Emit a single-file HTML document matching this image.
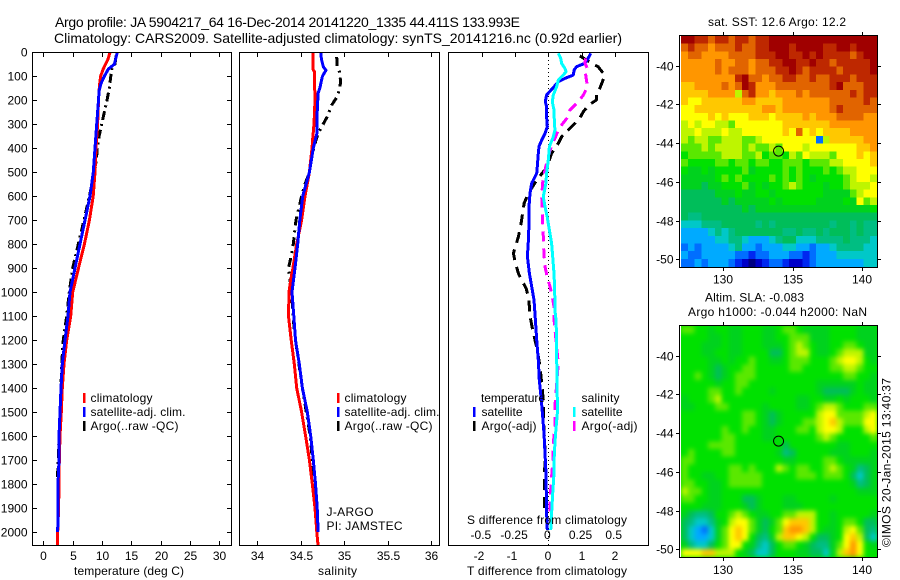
<!DOCTYPE html>
<html>
<head>
<meta charset="utf-8">
<title>Argo profile</title>
<style>
html,body{margin:0;padding:0;background:#fff;}
svg{display:block;}
text{font-family:"Liberation Sans",sans-serif;font-size:12px;fill:#000;}
.big{font-size:14px;}
</style>
</head>
<body>
<svg id="chart" width="900" height="580" viewBox="0 0 900 580" xmlns="http://www.w3.org/2000/svg">
<defs>
<clipPath id="clip-t"><rect x="32" y="52" width="200" height="494"/></clipPath>
<clipPath id="clip-s"><rect x="239" y="52" width="201" height="494"/></clipPath>
<clipPath id="clip-d"><rect x="448" y="52" width="201" height="494"/></clipPath>
<clipPath id="clip-m2"><rect x="681" y="326" width="196" height="231"/></clipPath>
<filter id="soft" x="-5%" y="-5%" width="110%" height="110%" color-interpolation-filters="sRGB"><feGaussianBlur stdDeviation="2.4"/></filter>
</defs>
<rect x="0" y="0" width="900" height="580" fill="#fff"/>
<text class="big" x="55" y="27" textLength="465" lengthAdjust="spacing">Argo profile: JA 5904217_64 16-Dec-2014 20141220_1335 44.411S 133.993E</text>
<text class="big" x="54" y="43" textLength="568" lengthAdjust="spacing">Climatology: CARS2009. Satellite-adjusted climatology: synTS_20141216.nc (0.92d earlier)</text>

<g id="map1"></g>
<g id="map2wrap" clip-path="url(#clip-m2)"><rect x="681" y="326" width="196" height="231" fill="#00e000"/><g id="map2" filter="url(#soft)"></g></g>

<g id="lines-t" clip-path="url(#clip-t)"></g>
<g id="lines-s" clip-path="url(#clip-s)"></g>
<g id="lines-d" clip-path="url(#clip-d)"></g>

<rect x="32.5" y="52.5" width="199" height="493" fill="none" stroke="#000"/>
<rect x="239.5" y="52.5" width="200" height="493" fill="none" stroke="#000"/>
<rect x="448.5" y="52.5" width="200" height="493" fill="none" stroke="#000"/>
<rect x="679.5" y="35.5" width="198" height="232" fill="none" stroke="#000"/>
<rect x="679.5" y="325.5" width="198" height="232" fill="none" stroke="#000"/>
<g id="axes"></g>

<text x="74" y="575" textLength="110" lengthAdjust="spacing">temperature (deg C)</text>
<text x="318" y="575" textLength="39" lengthAdjust="spacing">salinity</text>
<text x="467" y="575" textLength="160" lengthAdjust="spacing">T difference from climatology</text>
<text x="467" y="524" textLength="160" lengthAdjust="spacing">S difference from climatology</text>

<g>
<rect x="83" y="393" width="2.5" height="10" fill="#f00"/>
<rect x="83" y="407" width="2.5" height="10" fill="#00f"/>
<rect x="83" y="421" width="2.5" height="10" fill="#000"/>
<text x="90.5" y="402" textLength="62" lengthAdjust="spacing">climatology</text>
<text x="90.5" y="416" textLength="95" lengthAdjust="spacing">satellite-adj. clim.</text>
<text x="90.5" y="430" textLength="88" lengthAdjust="spacing">Argo(..raw -QC)</text>
</g>
<g>
<rect x="337" y="393" width="2.5" height="10" fill="#f00"/>
<rect x="337" y="407" width="2.5" height="10" fill="#00f"/>
<rect x="337" y="421" width="2.5" height="10" fill="#000"/>
<text x="344.5" y="402" textLength="62" lengthAdjust="spacing">climatology</text>
<text x="344.5" y="416" textLength="95" lengthAdjust="spacing">satellite-adj. clim.</text>
<text x="344.5" y="430" textLength="88" lengthAdjust="spacing">Argo(..raw -QC)</text>
<text x="326.5" y="516" textLength="47" lengthAdjust="spacing">J-ARGO</text>
<text x="326.5" y="530" textLength="76" lengthAdjust="spacing">PI: JAMSTEC</text>
</g>
<g>
<text x="481" y="402" textLength="64" lengthAdjust="spacing">temperature</text>
<text x="481.5" y="416" textLength="41" lengthAdjust="spacing">satellite</text>
<text x="481.5" y="430" textLength="55" lengthAdjust="spacing">Argo(-adj)</text>
<text x="581.5" y="402" textLength="38" lengthAdjust="spacing">salinity</text>
<text x="581.5" y="416" textLength="41" lengthAdjust="spacing">satellite</text>
<text x="581.5" y="430" textLength="56" lengthAdjust="spacing">Argo(-adj)</text>
<rect x="473" y="407" width="2.5" height="10" fill="#00f"/>
<rect x="473" y="421" width="2.5" height="10" fill="#000"/>
<rect x="573" y="407" width="2.5" height="10" fill="#0ff"/>
<rect x="573" y="421" width="2.5" height="10" fill="#f0f"/>
</g>

<text x="708" y="26" textLength="138" lengthAdjust="spacing">sat. SST: 12.6 Argo: 12.2</text>
<text x="705" y="301.5" textLength="99" lengthAdjust="spacing">Altim. SLA: -0.083</text>
<text x="688" y="316" textLength="179" lengthAdjust="spacing">Argo h1000: -0.044 h2000: NaN</text>
<text transform="translate(890.5,547) rotate(-90)" textLength="169" lengthAdjust="spacing">©IMOS 20-Jan-2015 13:40:37</text>
</svg>

<script>
// ---------- profile data ----------
const tempDepths = [0,30,50,70,100,130,160,200,300,400,500,600,700,800,900,1000,1100,1200,1300,1400,1500,1600,1700,1800,1900,2000,2058];
const tempClim = [11.36,11.0,10.6,10.2,9.77,9.6,9.5,9.4,9.25,8.97,8.8,8.5,7.85,7.0,6.0,5.0,4.67,3.98,3.53,3.24,3.07,2.84,2.73,2.67,2.6,2.45,2.45];
const tempSat = [12.6,12.3,12.1,11.07,10.4,9.83,9.5,9.4,9.1,8.8,8.52,7.95,7.1,6.25,5.4,4.55,4.2,3.7,3.24,3.02,2.85,2.67,2.67,2.5,2.5,2.45];
const tempArgoDepths = [15,50,70,100,150,200,250,300,350,400,450,500,600,700,800,900,1000,1100,1200,1300,1400,1500,1600,1700,1750,1900];
const tempArgo = [12.4,12.2,11.65,11.5,11.25,10.85,10.4,9.95,9.5,9.2,9.03,8.75,7.84,6.93,5.97,5.0,4.43,3.98,3.41,3.13,3.02,2.85,2.67,2.56,2.45,2.5];

const salClimDepths = [0,70,80,200,300,350,400,500,600,700,800,900,950,1000,1100,1200,1300,1400,1500,1600,1700,1800,1900,2000,2058];
const salClim = [34.64,34.64,34.657,34.665,34.653,34.64,34.63,34.6,34.55,34.51,34.454,34.41,34.385,34.365,34.36,34.39,34.426,34.454,34.51,34.557,34.6,34.634,34.665,34.685,34.7];
const salSatDepths = [0,30,60,75,100,150,170,250,340,370,400,500,600,700,800,900,1000,1100,1200,1300,1400,1500,1600,1700,1800,1900,2000];
const salSat = [34.73,34.74,34.76,34.79,34.75,34.72,34.70,34.69,34.685,34.665,34.645,34.6,34.523,34.49,34.465,34.434,34.40,34.42,34.44,34.484,34.52,34.576,34.615,34.645,34.67,34.69,34.70];
const salArgoDepths = [20,60,80,120,150,185,220,268,303,338,380,435,500,550,600,700,800,850,900,950,1000,1100,1200,1400,1600,1800,1900];
const salArgo = [34.915,34.92,34.945,34.96,34.95,34.92,34.857,34.807,34.753,34.70,34.665,34.627,34.6,34.55,34.51,34.446,34.415,34.39,34.36,34.377,34.396,34.41,34.44,34.52,34.61,34.66,34.68];

const dTempSatDepths = [4,25,46,60,74,95,109,123,150,178,206,227,268,310,338,366,393,421,477,505,546,588,644,713,783,852,922,977,1033,1116,1200,1283,1367,1450,1520,1589,1673,1756,1839,1922,1992];
const dTempSat = [1.28,1.20,1.10,0.85,0.78,0.75,0.50,0.30,0.13,-0.05,-0.09,-0.05,-0.05,-0.03,-0.10,-0.20,-0.28,-0.30,-0.33,-0.35,-0.50,-0.55,-0.58,-0.58,-0.60,-0.63,-0.57,-0.50,-0.43,-0.39,-0.35,-0.30,-0.27,-0.21,-0.17,-0.13,-0.10,-0.07,-0.06,-0.05,-0.03];
const dTempArgoDepths = [15,53,60,95,115,150,171,199,220,248,275,296,324,352,380,421,463,484,533,588,630,713,769,838,873,922,950,984,1019,1061,1100,1158,1200,1242,1311,1381,1450,1520,1659,1867,1922];
const dTempArgo = [0.95,1.4,1.5,1.7,1.65,1.55,1.45,1.45,1.22,1.05,0.95,0.8,0.6,0.4,0.3,0.1,0,-0.07,-0.35,-0.6,-0.73,-0.82,-0.9,-1.05,-1.0,-0.9,-0.8,-0.67,-0.6,-0.57,-0.55,-0.47,-0.4,-0.33,-0.25,-0.2,-0.15,-0.15,-0.1,-0.12,-0.1];
const dSalSatDepths = [4,25,46,67,81,95,115,143,178,206,241,282,324,352,393,449,505,546,602,644,686,741,797,852,922,991,1075,1116,1200,1283,1450,1506,1589,1673,1756,1839,1922,1992];
const dSalSat = [0.075,0.093,0.10,0.125,0.133,0.113,0.075,0.063,0.038,0.03,0.043,0.045,0.05,0.038,0.008,0,-0.013,-0.018,-0.038,-0.025,-0.008,0.008,0.025,0.033,0.043,0.048,0.05,0.058,0.063,0.063,0.068,0.068,0.055,0.045,0.043,0.033,0.025,0.018];
const dSalArgoDepths = [25,46,74,88,123,143,178,206,241,268,303,324,359,387,435,491,546,602,672,769,838,894,936,977,1019,1061,1088,1130,1297,1478,1561,1589,1714,1770,1825,1881,1936];
const dSalArgo = [0.28,0.276,0.30,0.28,0.289,0.296,0.264,0.226,0.163,0.15,0.10,0.075,0.05,0.025,0,-0.025,-0.043,-0.05,-0.045,-0.038,-0.033,-0.025,-0.008,0.013,0.03,0.043,0.043,0.045,0.075,0.05,0.05,0.043,0.033,0.025,0.018,0.013,0.013];

// ---------- tick labels ----------
const depthTicks = [0,100,200,300,400,500,600,700,800,900,1000,1100,1200,1300,1400,1500,1600,1700,1800,1900,2000];
const tempTicks = [0,5,10,15,20,25,30];
const salTicks = [34,34.5,35,35.5,36];
const dTempTicks = [-2,-1,0,1,2];
const dSalTicks = [-0.5,-0.25,0,0.25,0.5];
const lonTicks = [130,135,140];
const latTicks = [-40,-42,-44,-46,-48,-50];
const argoLon = [133.993];
const argoLat = [-44.411];

// ---------- map cells: colour levels, 0 navy .. 9 green .. 12 yellow .. 17 dark red ----------
const sstLevels = [
[17,17,16,16,15,16,16,15,16,16,15,16,16,17,17,17,17,17,17,17,17,17,17,17,17,17,17,17,17],
[15,16,15,15,14,15,15,15,16,15,15,16,16,17,17,17,16,17,17,17,17,16,16,17,17,16,17,17,17],
[14,15,15,14,14,14,14,15,15,15,15,16,16,16,17,17,16,16,17,16,17,16,16,16,16,15,16,17,17],
[14,14,14,14,14,15,14,14,15,15,14,15,15,16,16,17,17,16,16,17,16,16,15,16,16,16,16,16,17],
[14,14,14,14,14,15,14,15,15,15,14,15,15,15,16,16,17,16,15,16,16,16,16,15,16,16,16,16,17],
[14,14,14,14,14,14,14,14,16,17,15,15,14,15,15,16,16,15,15,16,15,15,16,16,16,15,16,16,16],
[13,13,14,14,14,14,15,14,15,17,16,14,14,14,15,15,15,15,15,15,15,15,16,17,15,15,15,16,16],
[13,13,13,13,14,14,14,14,11,15,16,14,14,13,14,14,14,15,14,15,15,15,15,15,15,16,15,16,16],
[13,12,12,13,13,13,13,13,13,14,14,13,13,13,13,14,14,14,14,14,14,14,15,15,15,15,15,16,15],
[12,12,13,13,13,13,13,13,13,13,13,13,14,14,13,14,14,14,14,14,14,14,15,16,15,15,15,15,15],
[12,12,12,12,13,12,13,12,12,12,13,13,13,12,13,13,13,13,14,13,14,14,14,15,15,15,15,14,14],
[11,12,11,12,12,11,11,10,12,12,12,12,12,12,12,13,13,13,13,13,13,13,14,14,14,14,14,14,14],
[11,11,12,11,11,11,12,11,11,12,12,12,12,12,12,13,12,15,12,13,12,13,13,13,13,14,14,14,14],
[11,10,11,11,10,10,11,11,11,10,10,11,12,12,12,12,12,12,12,12,3,11,13,13,13,13,13,14,14],
[10,10,10,11,10,11,11,11,11,10,11,10,10,11,10,12,12,12,11,12,12,12,12,12,12,12,13,13,14],
[9,10,10,10,10,10,11,11,11,10,10,11,9,10,10,9,11,10,12,11,11,11,10,12,12,12,13,12,13],
[10,9,9,9,9,10,10,9,10,10,9,10,10,9,9,10,10,10,9,10,10,10,11,11,12,12,12,12,13],
[9,8,8,9,8,9,9,9,9,10,8,9,9,9,9,10,9,10,9,9,9,10,9,10,11,11,12,12,12],
[8,8,8,8,8,9,10,9,10,9,9,9,9,10,9,10,9,10,9,8,9,9,9,9,10,11,12,12,11],
[8,8,8,7,8,8,9,9,9,10,8,9,8,9,9,10,11,10,9,9,9,8,9,9,10,11,11,11,12],
[7,7,7,7,7,8,8,8,9,8,8,9,9,8,9,9,9,9,9,9,9,8,8,8,8,10,11,12,12],
[7,7,7,7,7,7,8,7,8,8,8,8,8,9,8,9,9,9,9,9,8,8,8,8,9,8,12,10,11],
[7,7,7,7,7,7,7,7,7,8,7,8,8,8,8,8,8,8,8,8,8,8,8,8,8,8,8,8,9],
[7,6,6,7,7,7,7,7,7,7,7,7,7,7,7,7,7,7,7,7,7,7,7,7,7,7,7,7,7],
[5,5,5,6,6,6,7,7,7,7,7,6,7,6,7,7,7,7,7,7,7,7,6,7,7,6,7,6,6],
[4,4,4,4,5,6,5,6,7,7,7,7,7,7,7,6,6,7,6,6,7,6,7,7,7,6,7,6,6],
[4,4,4,4,4,5,5,6,6,5,4,4,4,5,6,7,7,5,5,5,6,6,6,6,7,6,6,6,5],
[3,4,3,4,4,4,4,5,6,4,4,3,4,4,4,5,5,4,4,3,4,4,5,6,6,6,6,5,5],
[4,3,3,4,4,4,4,4,3,3,2,3,3,4,4,4,3,3,2,3,4,4,4,5,5,5,5,5,5],
[3,3,4,3,4,4,4,3,2,1,0,1,2,3,3,2,1,1,2,3,4,4,4,4,4,4,4,5,5]
];
const slaLevels = [
[10,10,9,9,8,9,9,8,8,9,9,9,8,8,9,10,10,9,8,8,8,8,9,9,9,9,8,8,8],
[9,9,9,9,8,8,9,8,8,9,9,9,8,8,9,9,10,10,10,8,8,8,9,9,9,9,8,8,8],
[9,9,9,8,8,8,9,8,8,9,9,9,8,8,8,9,10,11,10,9,8,8,9,9,10,10,9,8,8],
[9,9,9,8,8,9,9,8,8,9,9,9,9,7,7,9,10,11,11,9,8,8,9,10,11,11,11,8,8],
[9,9,9,9,8,8,9,8,9,9,10,9,9,8,8,9,10,10,10,9,9,9,10,11,12,12,11,9,8],
[9,9,9,9,8,7,8,9,9,10,10,9,9,9,9,9,10,10,9,9,9,9,10,10,11,11,10,9,9],
[9,9,10,9,8,7,8,9,10,10,10,9,9,9,9,9,9,9,9,9,9,9,9,9,10,10,9,9,8],
[9,9,9,9,9,8,9,9,10,10,9,9,9,9,9,9,9,9,9,9,8,8,8,8,8,8,9,8,8],
[9,9,9,9,10,10,9,9,10,9,9,9,9,8,9,9,9,9,9,9,8,7,7,7,7,8,9,8,8],
[8,9,9,9,10,11,9,9,9,9,9,9,9,9,9,9,9,8,8,9,9,8,8,9,8,9,9,9,8],
[8,8,9,9,9,10,10,9,9,9,9,9,8,9,9,9,9,8,8,9,10,11,11,10,9,9,9,10,10],
[9,9,9,9,9,9,9,9,9,10,10,9,8,7,8,9,9,9,9,9,11,12,12,10,10,10,10,11,12],
[9,9,9,9,9,9,9,9,9,10,10,9,8,7,8,9,9,9,10,10,11,12,13,11,10,10,10,12,12],
[9,9,9,9,9,9,10,9,9,10,9,9,8,8,9,9,9,10,10,9,11,12,12,11,9,9,9,11,12],
[9,9,9,9,9,9,10,10,9,9,9,9,8,8,9,9,9,9,9,9,10,11,10,9,9,9,9,9,10],
[9,9,9,9,10,10,10,10,9,9,9,9,9,9,9,7,9,9,9,9,9,9,9,8,8,9,9,9,9],
[9,10,9,9,9,9,10,10,9,9,9,9,9,9,8,6,7,9,9,9,9,9,8,8,8,9,9,9,8],
[10,10,9,9,9,9,9,9,9,9,9,9,9,9,9,8,8,9,9,9,9,10,10,9,8,8,8,8,8],
[10,9,9,9,9,9,9,10,10,9,10,9,9,9,11,10,9,10,10,9,9,10,11,10,9,8,6,7,8],
[10,9,9,8,8,9,9,10,10,10,10,10,9,9,9,9,9,10,10,10,9,10,10,10,9,7,5,7,8],
[10,10,9,9,8,8,9,10,10,10,10,10,9,9,9,9,9,9,9,9,9,9,9,9,9,8,6,7,8],
[11,10,10,9,8,8,9,9,9,9,9,9,9,9,9,9,9,9,9,9,9,9,9,9,9,9,8,8,8],
[10,10,9,9,8,8,9,9,9,7,7,8,9,9,9,8,8,9,9,9,9,9,8,9,9,9,9,9,9],
[9,9,9,8,8,8,9,9,9,8,7,8,9,9,9,8,8,8,9,9,9,9,9,9,9,9,9,9,9],
[8,7,6,6,7,9,9,10,11,10,9,8,8,9,9,10,10,11,11,11,9,9,8,9,9,9,9,9,8],
[7,6,5,5,6,8,9,11,12,12,10,8,7,8,10,12,13,13,13,11,9,9,8,9,10,10,9,7,7],
[7,5,4,3,5,8,10,12,13,12,10,8,7,9,10,13,14,14,13,11,9,8,8,9,11,12,10,7,6],
[7,5,4,4,5,8,10,12,13,12,9,7,6,8,11,13,13,12,11,9,7,7,8,9,12,13,11,7,5],
[8,6,5,5,7,9,10,12,12,9,8,6,5,7,9,10,10,9,8,7,6,6,8,10,12,14,12,9,8],
[12,12,12,13,13,11,11,11,9,8,7,5,5,7,9,9,9,8,8,7,7,5,8,11,13,14,12,9,9]
];
const levelColors = ["rgb(0,0,130)","rgb(0,0,200)","rgb(0,40,240)","rgb(0,110,255)","rgb(0,170,255)","rgb(0,200,200)","rgb(0,190,130)","rgb(0,190,90)","rgb(0,210,30)","rgb(0,225,0)","rgb(90,232,0)","rgb(190,245,0)","rgb(255,255,0)","rgb(255,200,0)","rgb(255,150,0)","rgb(225,100,0)","rgb(190,40,0)","rgb(160,0,0)"];

// ---------- axis functions ----------
const depthY = d => 52.3 + d * 0.2398;
const tempX = v => 43.3 + v * 5.87;
const salX = v => 257.3 + (v - 34) * 86.8;
const dTempX = v => 548.3 + v * 33.2;
const dSalX = v => 548.3 + v * 132.8;
const lonX = v => 723.3 + (v - 130) * 13.84;
const sstLatY = v => 65.7 + (-40 - v) * 19.36;
const slaLatY = v => 355.7 + (-40 - v) * 19.36;

const NS = 'http://www.w3.org/2000/svg';
function make(tag, parent, attrs) {
  const n = document.createElementNS(NS, tag);
  for (const k in attrs) n.setAttribute(k, attrs[k]);
  parent.appendChild(n);
  return n;
}
function drawLine(parentId, depths, values, xFn, color, dash, name) {
  const n = Math.min(depths.length, values.length);
  const pts = [];
  for (let i = 0; i < n; i++) pts.push(xFn(values[i]).toFixed(1) + ',' + depthY(depths[i]).toFixed(1));
  const p = make('polyline', document.getElementById(parentId), {points: pts.join(' '), fill: 'none', stroke: color, 'stroke-width': 3, 'stroke-linejoin': 'round', 'shape-rendering': 'crispEdges'});
  if (dash) p.setAttribute('stroke-dasharray', dash);
  
  
}
function drawTick(x1, y1, x2, y2, name) {
  const t = make('line', axes, {x1: x1, y1: y1, x2: x2, y2: y2, stroke: '#000', 'stroke-width': 1, 'shape-rendering': 'crispEdges'});
  
  
}
function drawLabel(x, y, str, anchor, name) {
  const t = make('text', axes, {x: x, y: y, 'text-anchor': anchor});
  t.textContent = str;
  
  
}
function drawCells(group, levels, yTop, name) {
  const cw = 196 / 29, ch = 230.5 / 30;
  levels.forEach((row, r) => row.forEach((lv, c) => {
    const cell = make('rect', group, {x: (681 + c * cw).toFixed(2), y: (yTop + r * ch).toFixed(2), width: (cw + 0.4).toFixed(2), height: (ch + 0.4).toFixed(2), fill: levelColors[lv], 'shape-rendering': 'crispEdges'});
    
    
  }));
}

const axes = document.getElementById('axes');

// map cells
drawCells(document.getElementById('map1'), sstLevels, 36, 'sst-cell');
drawCells(document.getElementById('map2'), slaLevels, 326, 'sla-cell');

// profile lines
drawLine('lines-t', tempArgoDepths, tempArgo, tempX, '#000', '9 4 2 4', 'temperature-argo-line');
drawLine('lines-t', tempDepths, tempClim, tempX, '#f00', null, 'temperature-climatology-line');
drawLine('lines-t', tempDepths, tempSat, tempX, '#00f', null, 'temperature-satellite-line');
drawLine('lines-s', salArgoDepths, salArgo, salX, '#000', '9 5 2 5', 'salinity-argo-line');
drawLine('lines-s', salClimDepths, salClim, salX, '#f00', null, 'salinity-climatology-line');
drawLine('lines-s', salSatDepths, salSat, salX, '#00f', null, 'salinity-satellite-line');

const zero = make('line', document.getElementById('lines-d'), {x1: dTempX(0), y1: 52, x2: dTempX(0), y2: 546, stroke: '#000', 'stroke-width': 1, 'stroke-dasharray': '1 3', 'shape-rendering': 'crispEdges'});


drawLine('lines-d', dTempArgoDepths, dTempArgo, dTempX, '#000', '11 7', 'difference-temperature-argo-line');
drawLine('lines-d', dTempSatDepths, dTempSat, dTempX, '#00f', null, 'difference-temperature-satellite-line');
drawLine('lines-d', dSalArgoDepths, dSalArgo, dSalX, '#f0f', '10 7', 'difference-salinity-argo-line');
drawLine('lines-d', dSalSatDepths, dSalSat, dSalX, '#0ff', null, 'difference-salinity-satellite-line');

// depth axis on the temperature panel
depthTicks.forEach(d => {
  const y = Math.round(depthY(d)) + 0.5;
  drawTick(32, y, 37, y, 'depth-tick');
  drawTick(227, y, 232, y, 'depth-tick-right');
  drawLabel(27.5, y + 4, String(d), 'end', 'depth-tick-label');
});
// temperature axis
tempTicks.forEach(v => {
  const x = Math.round(tempX(v)) + 0.5;
  drawTick(x, 52, x, 57, 'temperature-tick-top');
  drawTick(x, 541, x, 546, 'temperature-tick-bottom');
  drawLabel(x, 560, String(v), 'middle', 'temperature-tick-label');
});
// salinity axis
salTicks.forEach(v => {
  const x = Math.round(salX(v)) + 0.5;
  drawTick(x, 52, x, 57, 'salinity-tick-top');
  drawTick(x, 541, x, 546, 'salinity-tick-bottom');
  drawLabel(x, 560, String(v), 'middle', 'salinity-tick-label');
});
// difference axes
dTempTicks.forEach(v => {
  const x = Math.round(dTempX(v)) + 0.5;
  drawTick(x, 52, x, 57, 'difference-tick-top');
  drawLabel(v < 0 ? x - 3.5 : x - 0.5, 560, String(v), 'middle', 'temperature-difference-tick-label');
});
dSalTicks.forEach(v => {
  drawLabel(dSalX(v) - 1, 539, String(v), 'middle', 'salinity-difference-tick-label');
});
// map axes
[[35, 267, sstLatY, 283.5, 'sst'], [325, 557, slaLatY, 574, 'sla']].forEach(m => {
  lonTicks.forEach(v => {
    const x = Math.round(lonX(v)) + 0.5;
    drawTick(x, m[0] - 3, x, m[0], m[4] + '-lon-tick-top');
    drawTick(x, m[1] + 1, x, m[1] + 4, m[4] + '-lon-tick-bottom');
    drawLabel(x - 0.5, m[3], String(v), 'middle', m[4] + '-lon-tick-label');
  });
  latTicks.forEach(v => {
    const y = Math.round(m[2](v)) + 0.5;
    drawTick(676, y, 679, y, m[4] + '-lat-tick-left');
    drawTick(878, y, 881, y, m[4] + '-lat-tick-right');
    drawLabel(673.5, y + 4, String(v), 'end', m[4] + '-lat-tick-label');
  });
});
// Argo position markers
[sstLatY, slaLatY].forEach((fn, i) => {
  const c = make('circle', axes, {cx: lonX(argoLon[0]), cy: fn(argoLat[0]), r: 5, fill: 'none', stroke: '#000', 'stroke-width': 1});
  
  
});
</script>
</body>
</html>
